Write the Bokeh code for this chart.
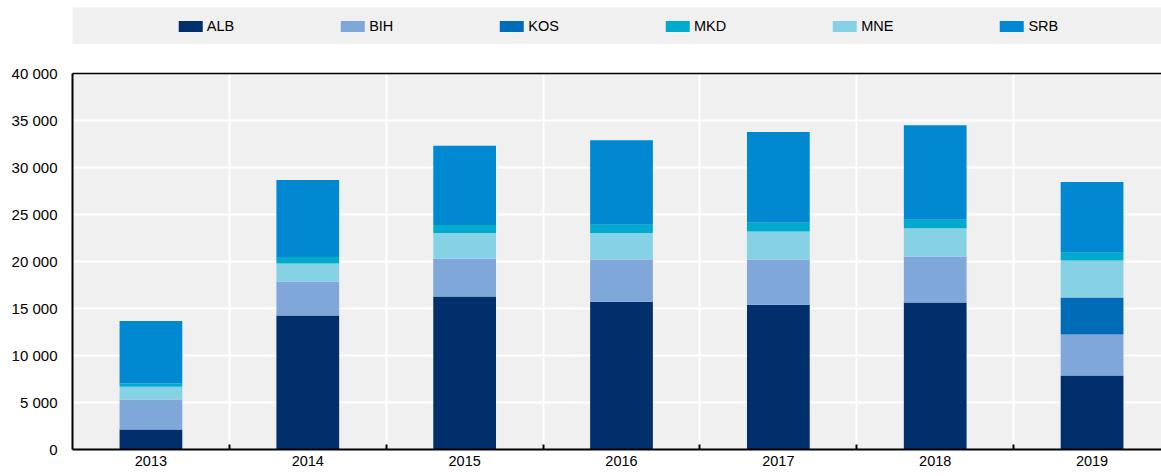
from bokeh.plotting import figure
from bokeh.models import (Range1d, FixedTicker, LinearAxis, Legend, LegendItem,
                          CustomJSTickFormatter, ColumnDataSource)
from bokeh.layouts import column
from bokeh.embed import file_html
from bokeh.resources import INLINE

# ---- data ----
years = [2013, 2014, 2015, 2016, 2017, 2018, 2019]
ALB = [2130, 14250, 16280, 15710, 15390, 15640, 7870]
BIH = [3190, 3620, 4010, 4500, 4820, 4890, 4360]
KOS = [0, 0, 0, 0, 0, 0, 3940]
MKD = [350, 680, 850, 880, 930, 880, 820]
MNE = [1350, 1920, 2730, 2810, 2980, 3020, 3940]
SRB = [6640, 8200, 8440, 9010, 9650, 10070, 7520]
y_ticks = [0, 5000, 10000, 15000, 20000, 25000, 30000, 35000, 40000]

legend_order = ["ALB", "BIH", "KOS", "MKD", "MNE", "SRB"]
stack_order = ["ALB", "BIH", "KOS", "MNE", "MKD", "SRB"]
colors = {"ALB": "#002F6C", "BIH": "#7FA7D9", "KOS": "#006BB6",
          "MKD": "#00AACC", "MNE": "#86D2E4", "SRB": "#0088D1"}

FONT = "Liberation Sans"
source = ColumnDataSource(dict(year=years, ALB=ALB, BIH=BIH, KOS=KOS,
                               MKD=MKD, MNE=MNE, SRB=SRB))

# ---- main chart ----
frame_w = 1090
px_per_cat = 157
p = figure(width=1161, height=432,
           x_range=Range1d(years[0] - 0.5, years[0] - 0.5 + frame_w / px_per_cat),
           y_range=Range1d(0, 40000),
           output_backend="svg", toolbar_location=None,
           min_border_left=71, min_border_right=0, min_border_top=29,
           min_border_bottom=27)
p.background_fill_color = "#F0F0F0"
p.border_fill_color = "white"
p.outline_line_color = None

p.vbar_stack(stack_order, x="year", width=0.4, source=source,
             color=[colors[s] for s in stack_order], line_color=None)

bounds = [y + 0.5 for y in years[:-1]]

# x axis
xa = p.xaxis[0]
xa.ticker = FixedTicker(ticks=years, minor_ticks=bounds)
xa.formatter = CustomJSTickFormatter(code="return tick.toFixed(0);")
xa.major_tick_in = 0
xa.major_tick_out = 0
xa.minor_tick_in = 5
xa.minor_tick_out = 0
xa.minor_tick_line_color = "black"
xa.minor_tick_line_width = 2
xa.axis_line_color = "black"
xa.axis_line_width = 2
xa.major_label_standoff = 6
xa.major_label_text_font = FONT
xa.major_label_text_font_size = "14.5px"
xa.major_label_text_color = "black"

# y axis
ya = p.yaxis[0]
ya.ticker = FixedTicker(ticks=y_ticks)
ya.formatter = CustomJSTickFormatter(
    code="return tick.toFixed(0).replace(/\\B(?=(\\d{3})+(?!\\d))/g, ' ');")
ya.major_tick_in = 0
ya.major_tick_out = 0
ya.minor_tick_in = 0
ya.minor_tick_out = 0
ya.axis_line_color = "black"
ya.axis_line_width = 2
ya.major_label_standoff = 15
ya.major_label_text_font = FONT
ya.major_label_text_font_size = "15px"
ya.major_label_text_color = "black"

# top border line
top = LinearAxis(ticker=FixedTicker(ticks=[]), major_label_text_font_size="0px",
                 major_tick_in=0, major_tick_out=0, minor_tick_in=0,
                 minor_tick_out=0, axis_line_color="black", axis_line_width=1.5)
p.add_layout(top, "above")

# grids
p.xgrid.ticker = FixedTicker(ticks=bounds)
p.xgrid.grid_line_color = "white"
p.xgrid.grid_line_width = 2
p.ygrid.ticker = FixedTicker(ticks=y_ticks)
p.ygrid.grid_line_color = "white"
p.ygrid.grid_line_width = 2

# ---- legend band ----
lf = figure(width=1161, height=44, output_backend="svg", toolbar_location=None,
            x_axis_type=None, y_axis_type=None,
            x_range=Range1d(0, 1), y_range=Range1d(0, 1),
            min_border_left=72, min_border_right=0, min_border_top=7,
            min_border_bottom=0)
lf.background_fill_color = "#F0F0F0"
lf.border_fill_color = "white"
lf.outline_line_color = None
lf.grid.visible = False

items = []
for name in legend_order:
    # zero-height key renderer: only used to draw the legend swatch
    r = lf.vbar(x=[0], top=[0], bottom=[0], width=0.0,
                fill_color=colors[name], line_color=None)
    items.append(LegendItem(label=name, renderers=[r]))

legend = Legend(items=items, orientation="horizontal", location="center",
                background_fill_alpha=0, border_line_color=None,
                glyph_width=30, glyph_height=14, label_standoff=2,
                spacing=103, padding=0, margin=0,
                label_text_font=FONT, label_text_font_size="14.5px",
                label_text_color="black")
lf.add_layout(legend)

layout = column(lf, p, spacing=0)
open("out.html", "w").write(file_html(layout, INLINE))
